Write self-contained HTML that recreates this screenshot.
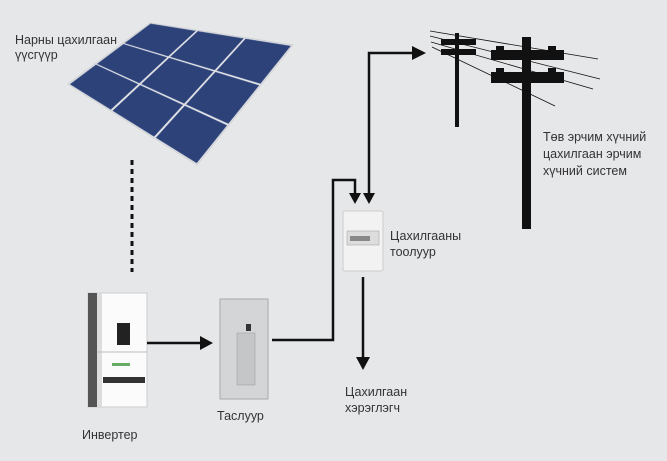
<!DOCTYPE html>
<html><head><meta charset="utf-8"><style>
html,body{margin:0;padding:0;background:#e6e7e9;}
svg{display:block}
text{font-family:"Liberation Sans",sans-serif;font-size:12.5px;fill:#333;}
</style></head><body>
<svg id="s" width="667" height="461" viewBox="0 0 667 461" xmlns="http://www.w3.org/2000/svg">
<rect width="667" height="461" fill="#e6e7e9"/>
<polygon points="150,23 293,45 197,165 68,84" fill="#e2e3e5" stroke="#d0d2d4"/>
<g id="panels" fill="#2d4278" stroke="#5a6c9c" stroke-width="0.5"></g>
<!-- dotted -->
<line x1="132" y1="160" x2="132" y2="272" stroke="#111" stroke-width="3" stroke-dasharray="5,4"/>
<text x="15" y="44">Нарны цахилгаан</text>
<text x="15" y="59">үүсгүүр</text>
<!-- inverter -->
<rect x="88" y="293" width="59" height="114" fill="#fbfbfb" stroke="#ccc"/>
<rect x="88" y="293" width="9" height="114" fill="#555"/>
<rect x="97" y="293" width="5" height="114" fill="#ddd"/>
<rect x="117" y="323" width="13" height="22" fill="#222"/>
<line x1="97" y1="352" x2="147" y2="352" stroke="#bbb"/>
<rect x="103" y="377" width="42" height="6" fill="#333"/>
<rect x="112" y="363" width="18" height="3" fill="#6a6"/>
<text x="82" y="439">Инвертер</text>
<line x1="147" y1="343" x2="203" y2="343" stroke="#111" stroke-width="2.5"/>
<polygon points="200,336 213,343 200,350" fill="#111"/>
<!-- breaker -->
<rect x="220" y="299" width="48" height="100" fill="#d3d5d6" stroke="#aaa"/>
<rect x="237" y="333" width="18" height="52" fill="#c4c6c8" stroke="#999" stroke-width="0.5"/>
<rect x="246" y="324" width="5" height="7" fill="#333"/>
<text x="217" y="420">Таслуур</text>
<polyline points="272,340 333,340 333,180 355,180 355,196" fill="none" stroke="#111" stroke-width="2.5"/>
<polygon points="349,193 361,193 355,204" fill="#111"/>
<polyline points="369,196 369,53 414,53" fill="none" stroke="#111" stroke-width="2.5"/>
<polygon points="363,193 375,193 369,204" fill="#111"/>
<polygon points="412,46 426,53 412,60" fill="#111"/>
<!-- meter -->
<rect x="343" y="211" width="40" height="60" rx="2" fill="#f2f2f2" stroke="#ccc"/>
<rect x="347" y="231" width="32" height="14" fill="#ddd" stroke="#999" stroke-width="0.5"/>
<rect x="350" y="236" width="20" height="5" fill="#888"/>
<text x="390" y="240">Цахилгааны</text>
<text x="390" y="256">тоолуур</text>
<line x1="363" y1="277" x2="363" y2="360" stroke="#111" stroke-width="2.5"/>
<polygon points="356,357 370,357 363,370" fill="#111"/>
<text x="345" y="396">Цахилгаан</text>
<text x="345" y="412">хэрэглэгч</text>
<!-- poles -->
<g stroke="#111" stroke-width="0.8">
<line x1="430" y1="31" x2="598" y2="59"/>
<line x1="430" y1="36" x2="600" y2="79"/>
<line x1="431" y1="42" x2="593" y2="89"/>
<line x1="432" y1="47" x2="555" y2="106"/>
</g>
<rect x="455" y="33" width="4" height="94" fill="#111"/>
<rect x="441" y="39" width="35" height="6" fill="#111"/>
<rect x="441" y="49" width="35" height="6" fill="#111"/>
<rect x="522" y="37" width="9" height="192" fill="#111"/>
<rect x="491" y="50" width="73" height="10" fill="#111"/>
<rect x="496" y="46" width="8" height="5" fill="#111"/><rect x="548" y="46" width="8" height="5" fill="#111"/>
<rect x="491" y="72" width="73" height="11" fill="#111"/>
<rect x="496" y="68" width="8" height="5" fill="#111"/><rect x="548" y="68" width="8" height="5" fill="#111"/>
<text x="543" y="141">Төв эрчим хүчний</text>
<text x="543" y="158">цахилгаан эрчим</text>
<text x="543" y="175">хүчний систем</text>
</svg>
<script>
(function(){
function P(u,v){return [(150+143*u-82*v-14*u*v).toFixed(1),(23+22*u+61*v+59*u*v).toFixed(1)].join(',');}
var r=[[0.01,0.325],[0.34,0.66],[0.675,0.99]],g=document.getElementById('panels'),h='';
for(var i=0;i<3;i++)for(var j=0;j<3;j++){var a=r[i],b=r[j];
h+='<polygon points="'+P(a[0],b[0])+' '+P(a[1],b[0])+' '+P(a[1],b[1])+' '+P(a[0],b[1])+'"/>';}
g.innerHTML=h;})();
</script>
</body></html>
